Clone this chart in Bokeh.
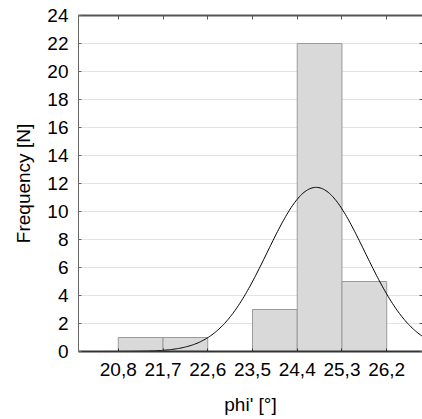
import numpy as np
from bokeh.plotting import figure
from bokeh.models import LinearAxis, FixedTicker, Range1d, CustomJSTickFormatter
from bokeh.embed import file_html
from bokeh.resources import INLINE

# Data
bin_edges = [20.8, 21.7, 22.6, 23.5, 24.4, 25.3, 26.2]
edge_labels = ["20,8", "21,7", "22,6", "23,5", "24,4", "25,3", "26,2"]
counts = [1, 1, 0, 3, 22, 5]
y_ticks = [0, 2, 4, 6, 8, 10, 12, 14, 16, 18, 20, 22, 24]
fit_mean = 24.78
fit_sd = 0.98

FONT = "Liberation Sans"
FS = "19px"

p = figure(width=422, height=419, output_backend="svg", toolbar_location=None,
           x_range=Range1d(20.0, 26.92), y_range=Range1d(0, 24),
           min_border_left=78, min_border_right=0, min_border_top=15, min_border_bottom=68,
           x_axis_label="phi' [°]", y_axis_label="Frequency [N]")
p.outline_line_color = None
p.background_fill_color = "white"
p.border_fill_color = "white"
p.xgrid.visible = False
p.ygrid.grid_line_color = "#e3e3e3"
p.ygrid.grid_line_width = 1
p.ygrid.ticker = FixedTicker(ticks=y_ticks)

# histogram bars
p.quad(left=bin_edges[:-1], right=bin_edges[1:], top=counts, bottom=0,
       fill_color="#d9d9d9", line_color="#9a9a9a", line_width=1)

# fitted normal curve
bw = bin_edges[1] - bin_edges[0]
xs = np.linspace(20.0, 26.92, 300)
ys = sum(counts) * bw / (fit_sd * np.sqrt(2 * np.pi)) * np.exp(-0.5 * ((xs - fit_mean) / fit_sd) ** 2)
p.line(xs, ys, line_color="black", line_width=1)

# bottom axis
xa = p.xaxis[0]
xa.ticker = FixedTicker(ticks=bin_edges)
xa.major_label_overrides = {e: l for e, l in zip(bin_edges, edge_labels)}
xa.major_tick_out = 0
xa.major_tick_in = 3
xa.major_tick_line_color = "#333333"
xa.minor_tick_line_color = None
xa.axis_line_color = "#333333"
xa.axis_line_width = 2
xa.major_label_standoff = 11
xa.major_label_text_font = FONT
xa.major_label_text_font_size = FS
xa.major_label_text_color = "black"
xa.axis_label_text_font = FONT
xa.axis_label_text_font_size = FS
xa.axis_label_text_font_style = "normal"
xa.axis_label_text_color = "black"
xa.axis_label_standoff = 15

# left axis
ya = p.yaxis[0]
ya.ticker = FixedTicker(ticks=y_ticks)
ya.major_tick_out = 0
ya.major_tick_in = 3
ya.major_tick_line_color = "#666666"
ya.minor_tick_line_color = None
ya.axis_line_color = "#666666"
ya.major_label_standoff = 10
ya.major_label_text_font = FONT
ya.major_label_text_font_size = FS
ya.major_label_text_color = "black"
ya.axis_label_text_font = FONT
ya.axis_label_text_font_size = FS
ya.axis_label_text_font_style = "normal"
ya.axis_label_text_color = "black"
ya.axis_label_standoff = 10

blank = CustomJSTickFormatter(code="return ''")

# top axis (frame line with inward ticks)
ta = LinearAxis(ticker=FixedTicker(ticks=bin_edges), formatter=blank)
ta.major_label_standoff = 0
ta.major_tick_out = 0
ta.major_tick_in = 4
ta.major_tick_line_color = "#555555"
ta.minor_tick_line_color = None
ta.axis_line_color = "#555555"
ta.axis_line_width = 2
p.add_layout(ta, "above")

# right axis (inward ticks only)
ra = LinearAxis(ticker=FixedTicker(ticks=y_ticks), formatter=blank)
ra.major_label_standoff = 0
ra.major_tick_out = 0
ra.major_tick_in = 3
ra.major_tick_line_color = "#555555"
ra.minor_tick_line_color = None
ra.axis_line_color = None
p.add_layout(ra, "right")

open("out.html", "w").write(file_html(p, INLINE))
